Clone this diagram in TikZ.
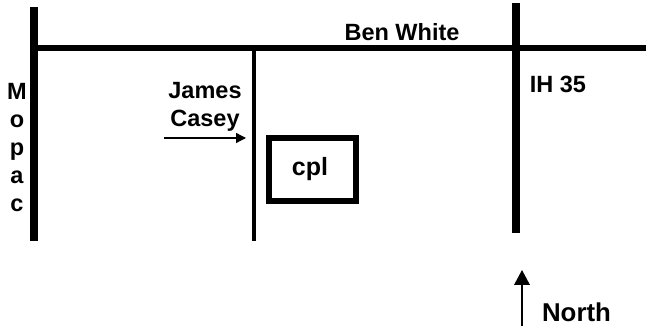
\documentclass[tikz,border=0pt]{standalone}
\usepackage{fontspec}
\setmainfont{Liberation Sans}
\usetikzlibrary{arrows.meta}
\tikzset{
  road/.style={line width=8pt,draw=black},
  cross/.style={line width=5.4pt,draw=black},
  minor/.style={line width=4pt,draw=black},
  lab/.style={font=\bfseries\fontsize{23.5}{27.8}\selectfont,inner sep=0pt,align=center},
  pointer/.style={draw=black,line width=1.3pt,-{Triangle[length=10pt,width=10pt]}},
  northptr/.style={draw=black,line width=1.7pt,-{Triangle[length=15pt,width=15.6pt]}}
}
\begin{document}
\begin{tikzpicture}[x=1pt,y=-1pt]
\useasboundingbox (0,0) rectangle (646,328);
\coordinate (mt) at (34,7); \coordinate (mb) at (34,241);
\coordinate (bl) at (34,48); \coordinate (br) at (646,48);
\coordinate (it) at (515.7,3); \coordinate (ib) at (515.7,233);
\coordinate (jt) at (254,48); \coordinate (jb) at (254,241);
\draw[road] (mt) -- (mb);
\draw[cross] (bl) -- (br);
\draw[road] (it) -- (ib);
\draw[minor] (jt) -- (jb);
\node[draw=black,line width=6pt,minimum width=86.4pt,minimum height=63.2pt,inner sep=0pt] (cpl) at (312.3,169.4) {};
\node[lab,anchor=base] (cpltext) at (310,175.4) {\fontsize{25}{28}\selectfont cpl};
\node[lab,anchor=base] (ben) at (402,40.7) {Ben White};
\node[lab,anchor=base] (ih) at (558,93) {IH 35};
\node[lab] (jc) at (205,106.5) {James\\Casey};
\node[lab] (mo) at (17,147.5) {M\\o\\p\\a\\c};
\node[lab,anchor=base] (no) at (576.5,322) {\fontsize{25.8}{28}\selectfont North};
\coordinate (a1) at (164,138); \coordinate (a2) at (246,138);
\draw[pointer] (a1) -- (a2);
\coordinate (n1) at (522,325.7); \coordinate (n2) at (522,270);
\draw[northptr] (n1) -- (n2);
\end{tikzpicture}
\end{document}
